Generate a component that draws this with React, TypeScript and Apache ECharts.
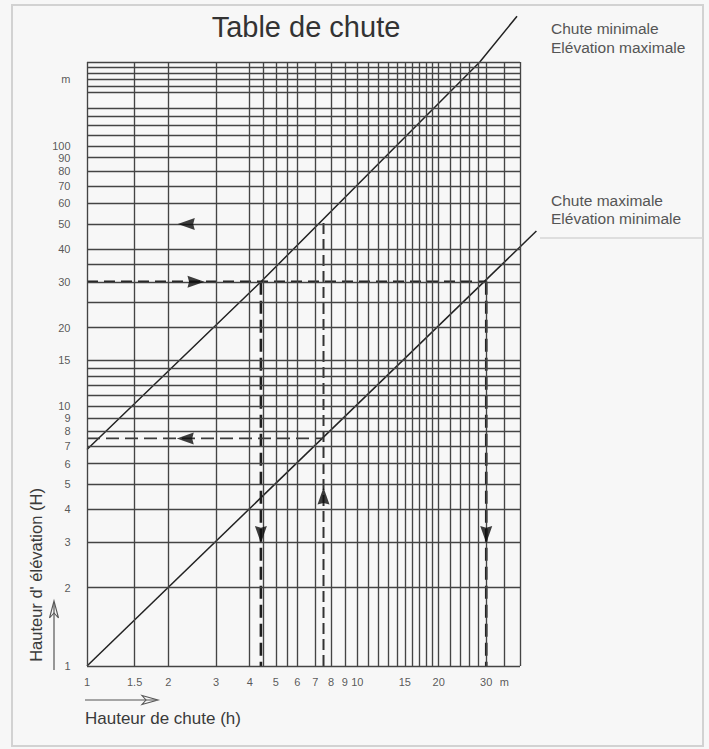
import React, { useEffect, useRef } from 'react';
import * as echarts from 'echarts';

// Axis ranges (log-log). The printed frame stops at PLOT_*; the axes run a bit
// further so that the two diagonals can leave the frame as in the original.
const X_MIN = 1;
const X_AXIS_MAX = 48;
const PLOT_X_MAX = 40;
const Y_MIN = 1;
const Y_AXIS_MAX = 320;
const PLOT_Y_MAX = 210;

// Tick labels
const xTickValues = [1, 1.5, 2, 3, 4, 5, 6, 7, 8, 9, 10, 15, 20, 30, 35];
const xTickLabels = ['1', '1.5', '2', '3', '4', '5', '6', '7', '8', '9', '10', '15', '20', '30', 'm'];
const yTickValues = [1, 2, 3, 4, 5, 6, 7, 8, 9, 10, 15, 20, 30, 40, 50, 60, 70, 80, 90, 100, 180];
const yTickLabels = ['1', '2', '3', '4', '5', '6', '7', '8', '9', '10', '15', '20', '30', '40', '50', '60', '70', '80', '90', '100', 'm'];

// Grid lines (as printed on the chart)
const xGridValues = [1, 1.5, 2, 3, 4, 4.5, 5, 5.5, 6, 7, 8, 9, 10, 11, 12, 13, 14, 15, 16, 17, 18, 19, 20, 22, 24, 26, 28, 30, 35, 40];
const yGridValues = [1, 2, 3, 4, 5, 6, 7, 8, 9, 10, 11, 12, 13, 14, 15, 20, 25, 30, 35, 40, 50, 60, 70, 80, 90, 100, 110, 120, 130, 140, 160, 170, 180, 190, 200, 210];

// Diagonal lines
const chuteMinimale = [[1, 6.8], [4.4, 30], [28.4, 210], [39, 315]];
const chuteMaximale = [[1, 1], [46, 47]];

// Reading guides
const guideH30 = [[1, 30], [30, 30]];
const guideV44 = [[4.4, 30], [4.4, 1]];
const guideV30 = [[30, 30], [30, 1]];
const guideV75 = [[7.5, 1], [7.5, 51]];
const guideH75 = [[1, 7.5], [7.5, 7.5]];

// Arrow heads
const arrowPoints = [
  [2.53, 30],
  [2.33, 50],
  [2.31, 7.5],
  [4.4, 3.2],
  [30, 3.2],
  [7.5, 4.5],
];
const arrowRotations = [-90, 90, 90, 180, 180, 0];

const FONT = 'Liberation Sans, Arial, Helvetica, sans-serif';
const GRID_COLOR = '#444';
const INK = '#222';

export default function App() {
  const ref = useRef<HTMLDivElement>(null);

  useEffect(() => {
    if (!ref.current) return;
    const chart = echarts.init(ref.current, undefined, { renderer: 'svg' });

    const guide = (name: string, data: number[][], width: number, dash: number[], color: string) => ({
      name,
      type: 'line',
      data,
      symbol: 'none',
      clip: false,
      silent: true,
      z: 4,
      lineStyle: { color, width, type: dash, cap: 'butt' },
    });

    const gridLineStyle = { color: GRID_COLOR, width: 1.35, type: 'solid' };

    const option: any = {
      animation: false,
      backgroundColor: '#f7f7f7',
      grid: { left: 87, right: 167.6, top: 14.4, bottom: 83 },
      xAxis: {
        type: 'log',
        logBase: 10,
        min: X_MIN,
        max: X_AXIS_MAX,
        axisLine: { show: false },
        axisTick: { show: false },
        axisLabel: { show: false },
        splitLine: { show: false },
      },
      yAxis: {
        type: 'log',
        logBase: 10,
        min: Y_MIN,
        max: Y_AXIS_MAX,
        axisLine: { show: false },
        axisTick: { show: false },
        axisLabel: { show: false },
        splitLine: { show: false },
      },
      graphic: [
        {
          type: 'rect',
          silent: true,
          shape: { x: 12, y: 5, width: 691, height: 741 },
          style: { fill: 'none', stroke: '#d2d2d2', lineWidth: 2 },
        },
        {
          type: 'line',
          silent: true,
          shape: { x1: 540, y1: 238, x2: 703, y2: 238 },
          style: { stroke: '#d6d6d6', lineWidth: 1.5 },
        },
        {
          type: 'text',
          x: 306,
          y: 27,
          style: {
            text: 'Table de chute',
            fontSize: 29,
            fontFamily: FONT,
            fill: '#333',
            align: 'center',
            verticalAlign: 'middle',
          },
        },
        {
          type: 'text',
          x: 551,
          y: 28,
          style: { text: 'Chute minimale', fontSize: 15.5, fontFamily: FONT, fill: '#555', align: 'left', verticalAlign: 'middle' },
        },
        {
          type: 'text',
          x: 551,
          y: 47,
          style: { text: 'Elévation maximale', fontSize: 15.5, fontFamily: FONT, fill: '#555', align: 'left', verticalAlign: 'middle' },
        },
        {
          type: 'text',
          x: 551,
          y: 200,
          style: { text: 'Chute maximale', fontSize: 15.5, fontFamily: FONT, fill: '#555', align: 'left', verticalAlign: 'middle' },
        },
        {
          type: 'text',
          x: 551,
          y: 218,
          style: { text: 'Elévation minimale', fontSize: 15.5, fontFamily: FONT, fill: '#555', align: 'left', verticalAlign: 'middle' },
        },
        {
          type: 'text',
          x: 85,
          y: 718,
          style: { text: 'Hauteur de chute (h)', fontSize: 17, fontFamily: FONT, fill: '#3a3a3a', align: 'left', verticalAlign: 'middle' },
        },
        {
          type: 'text',
          x: 36,
          y: 575,
          rotation: Math.PI / 2,
          style: { text: "Hauteur d' élévation (H)", fontSize: 16.5, fontFamily: FONT, fill: '#3a3a3a', align: 'center', verticalAlign: 'middle' },
        },
        // x-axis direction arrow
        {
          type: 'line',
          silent: true,
          shape: { x1: 85, y1: 700, x2: 156, y2: 700 },
          style: { stroke: '#555', lineWidth: 1.2 },
        },
        {
          type: 'polygon',
          silent: true,
          shape: { points: [[142, 695.5], [158, 700], [142, 704.5], [146, 700]] },
          style: { fill: 'none', stroke: '#555', lineWidth: 1.1 },
        },
        // y-axis direction arrow
        {
          type: 'line',
          silent: true,
          shape: { x1: 54, y1: 670, x2: 54, y2: 603 },
          style: { stroke: '#555', lineWidth: 1.2 },
        },
        {
          type: 'polygon',
          silent: true,
          shape: { points: [[49.5, 618], [54, 601], [58.5, 618], [54, 613]] },
          style: { fill: 'none', stroke: '#555', lineWidth: 1.1 },
        },
      ],
      series: [
        {
          name: 'xLabels',
          type: 'scatter',
          data: xTickValues.map((v) => [v, Y_MIN]),
          symbolSize: 1,
          itemStyle: { color: 'rgba(0,0,0,0)' },
          clip: false,
          silent: true,
          z: 1,
          label: {
            show: true,
            position: 'bottom',
            distance: 10,
            formatter: (p: any) => xTickLabels[p.dataIndex],
            fontSize: 11,
            fontFamily: FONT,
            color: '#2e2e2e',
          },
          markLine: {
            silent: true,
            symbol: ['none', 'none'],
            label: { show: false },
            lineStyle: gridLineStyle,
            data: xGridValues.map((v) => [{ coord: [v, Y_MIN] }, { coord: [v, PLOT_Y_MAX] }]),
          },
        },
        {
          name: 'yLabels',
          type: 'scatter',
          data: yTickValues.map((v) => [X_MIN, v]),
          symbolSize: 1,
          itemStyle: { color: 'rgba(0,0,0,0)' },
          clip: false,
          silent: true,
          z: 1,
          label: {
            show: true,
            position: 'left',
            distance: 16,
            formatter: (p: any) => yTickLabels[p.dataIndex],
            fontSize: 11,
            fontFamily: FONT,
            color: '#2e2e2e',
          },
          markLine: {
            silent: true,
            symbol: ['none', 'none'],
            label: { show: false },
            lineStyle: gridLineStyle,
            data: yGridValues.map((v) => [{ coord: [X_MIN, v] }, { coord: [PLOT_X_MAX, v] }]),
          },
        },
        {
          name: 'Chute minimale / Elévation maximale',
          type: 'line',
          data: chuteMinimale,
          symbol: 'none',
          clip: false,
          silent: true,
          z: 3,
          lineStyle: { color: INK, width: 1.5 },
        },
        {
          name: 'Chute maximale / Elévation minimale',
          type: 'line',
          data: chuteMaximale,
          symbol: 'none',
          clip: false,
          silent: true,
          z: 3,
          lineStyle: { color: INK, width: 1.5 },
        },
        guide('guideH30', guideH30, 2.6, [11, 6], '#1e1e1e'),
        guide('guideV44', guideV44, 2.6, [13, 6], '#1e1e1e'),
        guide('guideV30', guideV30, 2.6, [13, 6], '#1e1e1e'),
        guide('guideV75', guideV75, 2, [11, 5], '#333'),
        guide('guideH75', guideH75, 1.7, [13, 6], '#3a3a3a'),
        {
          name: 'arrows',
          type: 'scatter',
          data: arrowPoints.map((p, i) => ({ value: p, symbolRotate: arrowRotations[i] })),
          symbol: 'path://M6,0L12,16L6,14.5L0,16Z',
          symbolKeepAspect: false,
          symbolSize: [12, 17],
          clip: false,
          silent: true,
          z: 5,
          itemStyle: { color: '#0d0d0d' },
        },
      ],
    };

    chart.setOption(option);
    return () => chart.dispose();
  }, []);

  return (
    <div
      ref={ref}
      style={{ position: 'fixed', left: 0, top: 0, width: 709, height: 749, background: '#fff' }}
    />
  );
}
